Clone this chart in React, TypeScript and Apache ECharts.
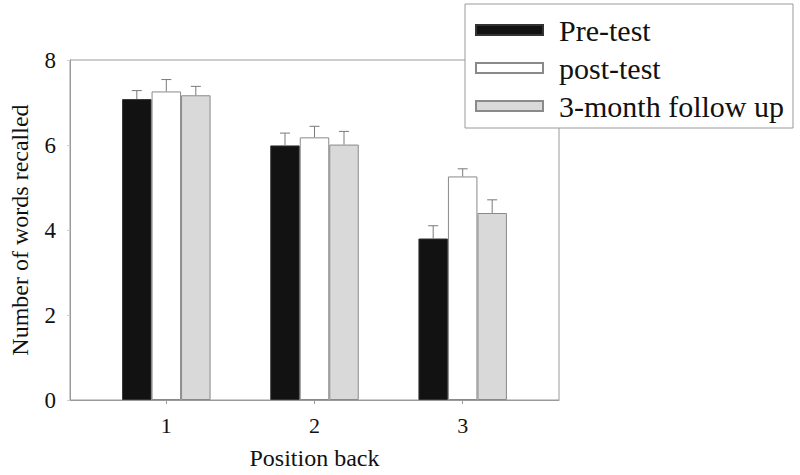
import React, { useEffect, useRef } from "react";
import * as echarts from "echarts";

const categories = [1, 2, 3];
const seriesNames = ["Pre-test", "post-test", "3-month follow up"];
const preTest = [7.08, 5.99, 3.8];
const postTest = [7.26, 6.18, 5.26];
const followUp = [7.17, 6.01, 4.4];
const preErr = [0.2, 0.29, 0.3];
const postErr = [0.28, 0.26, 0.18];
const followErr = [0.21, 0.31, 0.31];
const yTicks = [0, 2, 4, 6, 8];

const FONT = "Liberation Serif";
const BAR_W = 29.5;

export default function App() {
  const ref = useRef<HTMLDivElement>(null);
  useEffect(() => {
    if (!ref.current) return;
    const chart = echarts.init(ref.current, undefined, { renderer: "svg" });
    const means = [preTest, postTest, followUp];
    const errs = [preErr, postErr, followErr];
    const styles = [
      { color: "#121212", borderColor: "#333", borderWidth: 1 },
      { color: "#ffffff", borderColor: "#8a8a8a", borderWidth: 1 },
      { color: "#d9d9d9", borderColor: "#8a8a8a", borderWidth: 1 },
    ];
    const barSeries = seriesNames.map((name, k) => ({
      name,
      type: "bar",
      barWidth: BAR_W,
      barGap: "0%",
      itemStyle: styles[k],
      data: categories.map((c, i) => [c, means[k][i]]),
      z: 2,
    }));
    const errData: number[][] = [];
    for (let k = 0; k < 3; k++) {
      categories.forEach((c, i) => errData.push([c, means[k][i], errs[k][i], k]));
    }
    const errSeries = {
      type: "custom",
      name: "err",
      z: 3,
      encode: { x: 0, y: 1 },
      data: errData,
      renderItem: (_p: any, api: any) => {
        const x = api.value(0);
        const m = api.value(1);
        const e = api.value(2);
        const k = api.value(3);
        const b = api.coord([x, m]);
        const t = api.coord([x, m + e]);
        const cx = b[0] + (k - 1) * BAR_W;
        const st = { stroke: "#7a7a7a", lineWidth: 1, fill: "none" };
        return {
          type: "group",
          children: [
            { type: "line", shape: { x1: cx, y1: b[1], x2: cx, y2: t[1] }, style: st },
            { type: "line", shape: { x1: cx - 5, y1: t[1], x2: cx + 5, y2: t[1] }, style: st },
          ],
        };
      },
    };
    chart.setOption({
      animation: false,
      backgroundColor: "#ffffff",
      textStyle: { fontFamily: FONT, color: "#111" },
      grid: {
        left: 67,
        top: 60,
        right: 241,
        bottom: 70,
        show: true,
        borderColor: "#9a9a9a",
        borderWidth: 1,
        backgroundColor: "transparent",
        containLabel: false,
      },
      legend: {
        data: seriesNames,
        orient: "vertical",
        left: 465,
        top: 4,
        padding: [11, 9, 7, 10],
        backgroundColor: "#ffffff",
        borderColor: "#9a9a9a",
        borderWidth: 1,
        borderRadius: 0,
        itemWidth: 67,
        itemHeight: 10,
        itemGap: 8,
        icon: "rect",
        selectedMode: false,
        textStyle: { fontFamily: FONT, fontSize: 30, color: "#111", lineHeight: 30, padding: [0, 0, 0, 11] },
        z: 10,
      },
      xAxis: {
        type: "value",
        min: 0.35,
        max: 3.65,
        name: "Position back",
        nameLocation: "middle",
        nameGap: 46,
        nameTextStyle: { fontFamily: FONT, fontSize: 24, color: "#111" },
        axisLine: { show: true, lineStyle: { color: "#9a9a9a" } },
        axisTick: { show: true, length: 4, lineStyle: { color: "#9a9a9a" }, customValues: categories },
        axisLabel: { fontFamily: FONT, fontSize: 22, color: "#111", margin: 14, customValues: categories },
        splitLine: { show: false },
      },
      yAxis: {
        type: "value",
        min: 0,
        max: 8,
        interval: 2,
        name: "Number of words recalled",
        nameLocation: "middle",
        nameGap: 38,
        nameTextStyle: { fontFamily: FONT, fontSize: 24, color: "#111" },
        axisLine: { show: true, lineStyle: { color: "#9a9a9a" } },
        axisTick: { show: true, length: 3, lineStyle: { color: "#d0d0d0" }, customValues: yTicks },
        axisLabel: { fontFamily: FONT, fontSize: 23, color: "#111", margin: 14, customValues: yTicks },
        splitLine: { show: false },
      },
      series: [...barSeries, errSeries],
    });
    return () => chart.dispose();
  }, []);
  return (
    <div
      ref={ref}
      style={{ position: "fixed", left: 0, top: 0, width: 800, height: 475, background: "#fff" }}
    />
  );
}
